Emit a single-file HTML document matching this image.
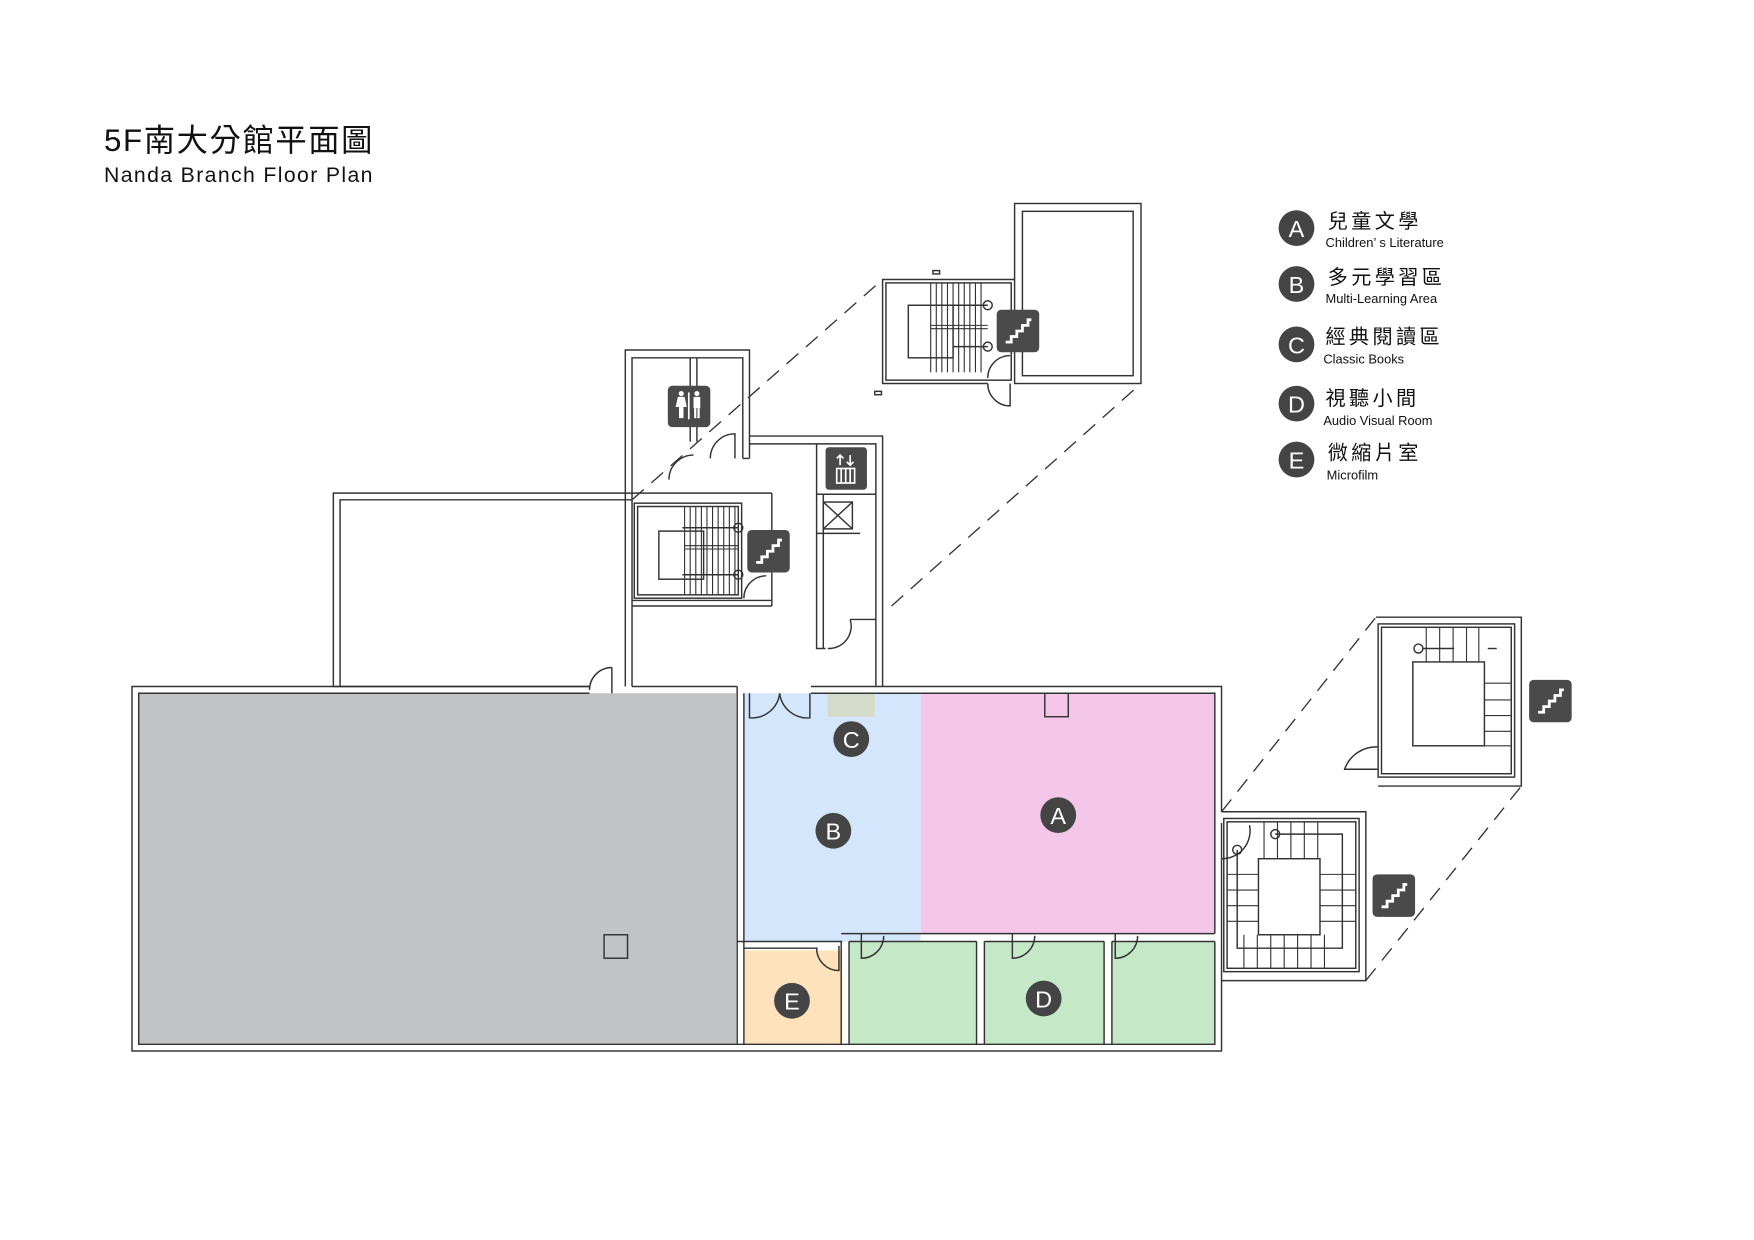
<!DOCTYPE html>
<html><head><meta charset="utf-8"><style>
html,body{margin:0;padding:0;background:#fff;}
svg{display:block;}
</style></head><body>
<svg width="1754" height="1240" viewBox="0 0 1568 1109" preserveAspectRatio="none" xmlns="http://www.w3.org/2000/svg">
<defs>
<g id="st"><rect x="0" y="0" width="38" height="38" rx="4" fill="#4a4a4a"/><polyline points="8,29 13,29 13,24 18,24 18,19 23,19 23,14 28,14 28,9 31,9" fill="none" stroke="#fff" stroke-width="2.5"/></g>
</defs>
<rect width="1568" height="1109" fill="#fff"/>

<text x="93" y="135" font-family="Liberation Sans, 'Noto Sans CJK TC', sans-serif" font-size="28" textLength="240" fill="#111">5F南大分館平面圖</text>
<text x="93" y="163" font-family="Liberation Sans, sans-serif" font-size="19" textLength="240" fill="#111">Nanda Branch Floor Plan</text>

<rect x="124" y="620" width="534" height="314" fill="#c2c3c5"/>
<rect x="665" y="620" width="158" height="222" fill="#d4e6fc"/>
<rect x="823" y="620" width="263" height="215" fill="#f3c6ea"/>
<rect x="665" y="850" width="88" height="84" fill="#fde2bb"/>
<rect x="759" y="842" width="114" height="92" fill="#c5e9c6"/>
<rect x="880" y="842" width="107" height="92" fill="#c5e9c6"/>
<rect x="994" y="842" width="92" height="92" fill="#c5e9c6"/>
<rect x="740" y="620" width="42" height="21" fill="#d4dbc8"/>

<g fill="none" stroke="#333" stroke-width="1.3">
<polyline points="527,614 118,614 118,940 1092,940 1092,736"/>
<polyline points="1092,726 1092,614 725,614"/>
<polyline points="565,614 659,614"/>
<polyline points="527,620 124,620 124,934 1086,934 1086,842"/>
<polyline points="1086,835 1086,620 725,620"/>
<line x1="659" y1="614" x2="659" y2="934"/>
<line x1="665" y1="620" x2="665" y2="934"/>
<line x1="659" y1="842" x2="753" y2="842"/>
<line x1="665" y1="848" x2="731" y2="848"/>
<line x1="752" y1="842" x2="752" y2="934"/>
<line x1="759" y1="842" x2="759" y2="934"/>
<line x1="752" y1="835" x2="1086" y2="835"/>
<line x1="759" y1="842" x2="873" y2="842"/>
<line x1="873" y1="842" x2="873" y2="934"/>
<line x1="880" y1="842" x2="880" y2="934"/>
<line x1="880" y1="842" x2="987" y2="842"/>
<line x1="987" y1="842" x2="987" y2="934"/>
<line x1="994" y1="842" x2="994" y2="934"/>
<line x1="994" y1="842" x2="1086" y2="842"/>
<rect x="934" y="620" width="21" height="21"/>
<rect x="540" y="836" width="21" height="21"/>
<path d="M670,620 v22 a25,25 0 0 0 27,-22"/>
<path d="M724,620 v22 a25,25 0 0 1 -27,-22"/>
<path d="M770,835 v22 a20,20 0 0 0 20,-20"/>
<path d="M905,835 v22 a20,20 0 0 0 20,-20"/>
<path d="M997,835 v22 a20,20 0 0 0 20,-20"/>
<path d="M750,846 v22 a20,20 0 0 1 -20,-20"/>
<path d="M547,597 v23 M547,597 a20,20 0 0 0 -20,20"/>

<polyline points="298,614 298,441 565,441"/>
<polyline points="304,614 304,447 565,447"/>
<line x1="298" y1="614" x2="304" y2="614"/>
<line x1="304" y1="614" x2="527" y2="614"/>
<polyline points="559,614 559,313 670,313 670,410"/>
<polyline points="565,614 565,320 664,320 664,410"/>
<line x1="664" y1="410" x2="670" y2="410"/>
<line x1="617" y1="320" x2="617" y2="395"/>
<line x1="623" y1="320" x2="623" y2="395"/>
<path d="M657,410 v-22 a22,22 0 0 0 -22,22"/>
<path d="M620,407 a22,22 0 0 0 -22,22"/>
<line x1="565" y1="441" x2="690" y2="441"/>
<line x1="690" y1="441" x2="690" y2="542"/>
<rect x="567" y="450" width="96" height="85"/>
<rect x="570" y="453" width="90" height="79"/>
<line x1="565" y1="537" x2="690" y2="537"/>
<line x1="565" y1="542" x2="690" y2="542"/>
<rect x="589" y="475" width="40" height="43"/>
<line x1="660" y1="472" x2="610" y2="472"/>
<line x1="660" y1="514" x2="610" y2="514"/>
<circle cx="660" cy="472" r="4"/><circle cx="660" cy="514" r="4"/>
<path d="M665,535 a20,20 0 0 1 20,-20"/>
<polyline points="670,390 789,390 789,614"/>
<polyline points="670,397 783,397 783,614"/>
<polyline points="730,397 730,580 738,580"/>
<polyline points="736,442 736,580"/>
<rect x="736" y="449" width="26" height="24"/>
<line x1="736" y1="449" x2="762" y2="473"/><line x1="762" y1="449" x2="736" y2="473"/>
<line x1="730" y1="477" x2="769" y2="477"/>
<line x1="730" y1="442" x2="783" y2="442"/>
<polyline points="760,554 783,554"/>
<path d="M740,580 a20,20 0 0 0 20,-26"/>
</g>
<g stroke="#333" stroke-width="1">
<line x1="612" y1="453" x2="612" y2="532"/><line x1="617" y1="453" x2="617" y2="532"/><line x1="622" y1="453" x2="622" y2="532"/><line x1="627" y1="453" x2="627" y2="532"/><line x1="632" y1="453" x2="632" y2="532"/><line x1="637" y1="453" x2="637" y2="532"/><line x1="642" y1="453" x2="642" y2="532"/><line x1="647" y1="453" x2="647" y2="532"/><line x1="652" y1="453" x2="652" y2="532"/><line x1="657" y1="453" x2="657" y2="532"/>
<line x1="612" y1="488" x2="660" y2="488"/><line x1="612" y1="491" x2="660" y2="491"/>
</g>

<g stroke="#333" stroke-width="1.2" stroke-dasharray="14,9" fill="none">
<line x1="565" y1="447" x2="789" y2="250"/>
<line x1="797" y1="542" x2="1020" y2="343"/>
<line x1="1092" y1="726" x2="1230" y2="552"/>
<line x1="1221" y1="877" x2="1360" y2="703"/>
</g>

<g fill="none" stroke="#333" stroke-width="1.3">
<rect x="907" y="182" width="113" height="161"/>
<rect x="914" y="189" width="99" height="147"/>
<polyline points="907,250 789,250 789,343 883,343"/>
<rect x="792" y="253" width="112" height="87"/>
<rect x="812" y="273" width="40" height="47"/>
<line x1="883" y1="273" x2="852" y2="273"/><line x1="883" y1="310" x2="852" y2="310"/>
<circle cx="883" cy="273" r="4"/><circle cx="883" cy="310" r="4"/>
<path d="M883,338 a20,20 0 0 1 20,-20"/>
<path d="M903,343 v20 a20,20 0 0 1 -20,-20"/>
<rect x="834" y="242" width="6" height="3"/>
<rect x="782" y="350" width="6" height="3"/>
</g>
<g stroke="#333" stroke-width="1">
<line x1="832" y1="253" x2="832" y2="333"/><line x1="837" y1="253" x2="837" y2="333"/><line x1="842" y1="253" x2="842" y2="333"/><line x1="847" y1="253" x2="847" y2="333"/><line x1="852" y1="253" x2="852" y2="333"/><line x1="857" y1="253" x2="857" y2="333"/><line x1="862" y1="253" x2="862" y2="333"/><line x1="867" y1="253" x2="867" y2="333"/><line x1="872" y1="253" x2="872" y2="333"/><line x1="877" y1="253" x2="877" y2="333"/>
<line x1="832" y1="291" x2="883" y2="291"/><line x1="832" y1="294" x2="883" y2="294"/>
</g>

<g fill="none" stroke="#333" stroke-width="1.3">
<polyline points="1092,726 1221,726 1221,877 1092,877"/>
<rect x="1094" y="732" width="121" height="137"/>
<rect x="1097" y="735" width="115" height="131"/>
<rect x="1125" y="768" width="55" height="68"/>
<polyline points="1106,760 1106,848 1200,848 1200,746 1140,746"/>
<circle cx="1106" cy="760" r="4"/><circle cx="1140" cy="746" r="4"/>
<path d="M1092,768 a25,25 0 0 0 25,-30"/>
<polyline points="1230,552 1360,552 1360,703 1232,703"/>
<rect x="1232" y="558" width="122" height="137"/>
<rect x="1235" y="561" width="116" height="131"/>
<rect x="1263" y="592" width="64" height="75"/>
<circle cx="1268" cy="580" r="4"/>
<line x1="1272" y1="580" x2="1300" y2="580"/>
<path d="M1232,668 a30,30 0 0 0 -30,20 h30"/>
<line x1="1330" y1="580" x2="1338" y2="580"/>
</g>
<g stroke="#333" stroke-width="1">
<line x1="1097" y1="782" x2="1125" y2="782"/><line x1="1097" y1="796" x2="1125" y2="796"/><line x1="1097" y1="810" x2="1125" y2="810"/><line x1="1097" y1="824" x2="1125" y2="824"/>
<line x1="1180" y1="782" x2="1212" y2="782"/><line x1="1180" y1="796" x2="1212" y2="796"/><line x1="1180" y1="810" x2="1212" y2="810"/><line x1="1180" y1="824" x2="1212" y2="824"/>
<line x1="1112" y1="836" x2="1112" y2="866"/><line x1="1124" y1="836" x2="1124" y2="866"/><line x1="1136" y1="836" x2="1136" y2="866"/><line x1="1148" y1="836" x2="1148" y2="866"/><line x1="1160" y1="836" x2="1160" y2="866"/><line x1="1172" y1="836" x2="1172" y2="866"/><line x1="1184" y1="836" x2="1184" y2="866"/>
<line x1="1130" y1="735" x2="1130" y2="768"/><line x1="1142" y1="735" x2="1142" y2="768"/><line x1="1154" y1="735" x2="1154" y2="768"/><line x1="1166" y1="735" x2="1166" y2="768"/><line x1="1178" y1="735" x2="1178" y2="768"/>
<line x1="1275" y1="561" x2="1275" y2="592"/><line x1="1287" y1="561" x2="1287" y2="592"/><line x1="1299" y1="561" x2="1299" y2="592"/><line x1="1311" y1="561" x2="1311" y2="592"/><line x1="1322" y1="561" x2="1322" y2="592"/>
<line x1="1327" y1="611" x2="1351" y2="611"/><line x1="1327" y1="626" x2="1351" y2="626"/><line x1="1327" y1="640" x2="1351" y2="640"/><line x1="1327" y1="654" x2="1351" y2="654"/><line x1="1327" y1="667" x2="1351" y2="667"/>
</g>

<use href="#st" x="668" y="474"/>
<use href="#st" x="891" y="277"/>
<use href="#st" x="1367" y="608"/>
<use href="#st" x="1227" y="782"/>
<rect x="597" y="345" width="38" height="37" rx="4" fill="#4a4a4a"/>
<g fill="#fff"><circle cx="609" cy="352" r="2.3"/><path d="M606,355 h6 l2,9 h-3 v10 h-4 v-10 h-3z"/><rect x="615" y="351" width="1.5" height="24"/><circle cx="623" cy="352" r="2.3"/><rect x="620" y="355" width="6" height="10"/><rect x="620.5" y="365" width="2" height="9"/><rect x="623.5" y="365" width="2" height="9"/></g>
<rect x="738" y="400" width="37" height="38" rx="3" fill="#4a4a4a"/>
<g stroke="#fff" stroke-width="1.5" fill="none"><rect x="748" y="419" width="16" height="13"/><line x1="752" y1="419" x2="752" y2="432"/><line x1="756" y1="419" x2="756" y2="432"/><line x1="760" y1="419" x2="760" y2="432"/><path d="M751,416 v-9 m-3,3 l3,-3 l3,3 M760,407 v9 m-3,-3 l3,3 l3,-3"/></g>

<g font-family="Liberation Sans, sans-serif" font-size="21" fill="#fff" text-anchor="middle">
<circle cx="761" cy="661" r="16" fill="#444"/><text x="761" y="669">C</text>
<circle cx="745" cy="743" r="16" fill="#444"/><text x="745" y="751">B</text>
<circle cx="946" cy="729" r="16" fill="#444"/><text x="946" y="737">A</text>
<circle cx="708" cy="895" r="16" fill="#444"/><text x="708" y="903">E</text>
<circle cx="933" cy="893" r="16" fill="#444"/><text x="933" y="901">D</text>
<circle cx="1159" cy="204" r="16" fill="#444"/><text x="1159" y="212">A</text>
<circle cx="1159" cy="254" r="16" fill="#444"/><text x="1159" y="262">B</text>
<circle cx="1159" cy="308" r="16" fill="#444"/><text x="1159" y="316">C</text>
<circle cx="1159" cy="361" r="16" fill="#444"/><text x="1159" y="369">D</text>
<circle cx="1159" cy="411" r="16" fill="#444"/><text x="1159" y="419">E</text>
</g>
<g font-family="Liberation Sans, 'Noto Sans CJK TC', sans-serif" fill="#111">
<text x="1187" y="204" font-size="18" letter-spacing="3">兒童文學</text>
<text x="1185" y="221" font-size="11.5">Children’ s Literature</text>
<text x="1187" y="254" font-size="18" letter-spacing="3">多元學習區</text>
<text x="1185" y="271" font-size="11.5">Multi-Learning Area</text>
<text x="1185" y="307" font-size="18" letter-spacing="3">經典閱讀區</text>
<text x="1183" y="325" font-size="11.5">Classic Books</text>
<text x="1185" y="362" font-size="18" letter-spacing="3">視聽小間</text>
<text x="1183" y="380" font-size="11.5">Audio Visual Room</text>
<text x="1187" y="411" font-size="18" letter-spacing="3">微縮片室</text>
<text x="1186" y="429" font-size="11.5">Microfilm</text>
</g>
</svg>
</body></html>
